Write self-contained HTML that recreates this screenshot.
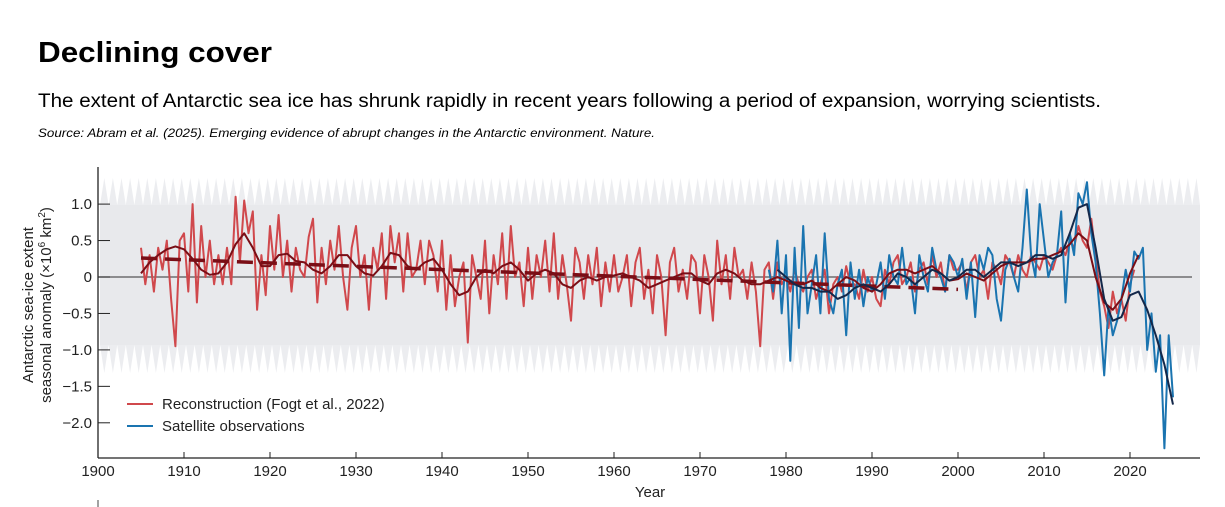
<!DOCTYPE html>
<html><head><meta charset="utf-8">
<style>
body{margin:0;background:#fff;width:1225px;height:507px;overflow:hidden;font-family:"Liberation Sans",sans-serif;}
svg{display:block}
</style></head>
<body>
<svg id="chart" width="1225" height="507" viewBox="0 0 1225 507">
<text x="38" y="62" font-size="29" font-weight="bold" fill="#000" textLength="234" lengthAdjust="spacingAndGlyphs">Declining cover</text>
<text x="38" y="107" font-size="19" fill="#000" textLength="1063" lengthAdjust="spacingAndGlyphs">The extent of Antarctic sea ice has shrunk rapidly in recent years following a period of expansion, worrying scientists.</text>
<text x="38" y="137" font-size="12" font-style="italic" fill="#000" textLength="617" lengthAdjust="spacingAndGlyphs">Source: Abram et al. (2025). Emerging evidence of abrupt changes in the Antarctic environment. Nature.</text>
<g id="band"></g>
<g id="axes"></g>
<g id="series"></g>
<g>
<line x1="127" y1="404" x2="153" y2="404" stroke="#d0484c" stroke-width="2"/>
<text x="162" y="409" font-size="15" fill="#222">Reconstruction (Fogt et al., 2022)</text>
<line x1="127" y1="426" x2="153" y2="426" stroke="#1a74b0" stroke-width="2"/>
<text x="162" y="431" font-size="15" fill="#222">Satellite observations</text>
</g>
<text transform="translate(33,305) rotate(-90)" text-anchor="middle" font-size="15" fill="#222">Antarctic sea-ice extent</text>
<text transform="translate(51,305) rotate(-90)" text-anchor="middle" font-size="15" fill="#222">seasonal anomaly (×10<tspan font-size="10" dy="-6">6</tspan><tspan dy="6"> km</tspan><tspan font-size="10" dy="-6">2</tspan><tspan dy="6">)</tspan></text>
<text x="650" y="497" text-anchor="middle" font-size="15" fill="#222">Year</text>
<line x1="98" y1="500" x2="98" y2="507" stroke="#444" stroke-width="1"/>
</svg>
<script>
const xTicks=[1900,1910,1920,1930,1940,1950,1960,1970,1980,1990,2000,2010,2020];
const yTicks=[1.0,0.5,0,-0.5,-1.0,-1.5,-2.0];
const yTickLabels=["1.0","0.5","0","\u22120.5","\u22121.0","\u22121.5","\u22122.0"];
const recStart=1905, recStep=0.5;
const recValues=[0.4,-0.1,0.3,-0.2,0.4,0.1,0.5,-0.3,-0.95,0.5,0.6,-0.2,1.0,-0.35,0.7,0.0,0.5,-0.1,0.3,-0.1,0.4,-0.1,1.1,0.2,1.05,0.6,0.9,-0.45,0.3,-0.25,
0.7,0.1,0.85,0.0,0.5,-0.2,0.4,0.1,0.0,0.55,0.8,-0.35,0.4,-0.1,0.5,0.1,0.7,0.0,-0.45,0.4,0.7,0.0,0.3,-0.45,0.4,0.1,0.6,-0.3,0.7,0.2,0.6,-0.2,0.6,0.0,0.1,0.5,-0.1,0.5,0.3,-0.2,
0.5,-0.45,0.3,-0.4,0.0,0.2,-0.9,0.3,0.0,-0.3,0.5,-0.5,0.3,-0.1,0.6,-0.3,0.7,0.0,0.2,-0.4,0.4,-0.3,0.3,0.0,0.5,-0.2,0.6,-0.3,0.3,-0.1,-0.6,0.4,0.2,-0.3,0.3,-0.1,0.4,-0.4,0.2,-0.2,
0.3,-0.2,0.0,0.3,-0.4,0.2,0.4,-0.3,0.1,-0.5,0.3,0.0,-0.8,0.2,0.4,-0.2,0.1,-0.3,0.3,0.2,-0.5,0.3,0.0,-0.6,0.5,-0.1,0.3,-0.3,0.4,0.0,0.1,-0.3,0.2,-0.2,-0.95,0.1,0.2,-0.3,0.2,-0.1,
0.0,-0.2,0.1,-0.1,-0.2,0.0,0.1,-0.3,-0.1,0.1,-0.5,-0.1,0.0,-0.2,0.15,-0.1,-0.1,-0.3,0.1,-0.2,0.0,-0.3,-0.4,0.1,-0.1,0.2,0.3,-0.1,0.0,0.2,-0.2,0.1,0.2,-0.1,0.3,0.0,0.2,-0.2,0.3,0.1,
0.1,0.2,-0.2,0.2,0.3,0.0,0.1,-0.3,0.2,0.1,-0.1,0.3,0.2,0.0,0.3,0.1,0.0,0.3,0.2,0.1,0.3,0.2,0.1,0.3,0.4,0.3,0.5,0.4,0.7,0.5,0.4,0.8,0.3,-0.2,-0.4,-0.7,-0.2,-0.5,-0.3,-0.6,-0.1,0.1];
const satStart=1978, satStep=0.5;
const satValues=[0.1,-0.2,0.5,-0.5,0.3,-1.15,0.4,-0.7,0.7,-0.5,-0.1,0.3,-0.5,0.6,-0.3,-0.5,-0.1,0.1,-0.8,0.2,-0.3,0.1,-0.4,0.0,-0.2,-0.1,0.2,-0.3,0.3,0.0,-0.1,0.4,-0.1,0.0,-0.5,0.3,0.0,-0.2,0.4,0.1,0.0,-0.2,0.3,0.2,
0.0,0.25,-0.3,0.2,-0.55,0.3,0.1,0.4,0.3,-0.3,-0.6,0.1,0.25,0.0,-0.2,0.4,1.2,0.3,0.0,1.0,0.5,0.0,0.2,0.3,0.9,-0.35,0.6,0.3,1.15,1.0,1.3,0.6,0.2,-0.5,-1.35,-0.4,-0.8,-0.6,-0.3,0.1,-0.2,0.35,0.25,0.4,-1.0,-0.5,-1.3,-0.8,-2.35,-0.8,-1.65];
const recSmoothStart=1905;
const recSmooth=[0.05,0.2,0.3,0.38,0.42,0.38,0.25,0.1,0.03,0.05,0.2,0.45,0.6,0.4,0.15,0.15,0.3,0.32,0.22,0.2,0.1,0.05,0.15,0.3,0.3,0.15,0.05,0.02,0.15,0.33,0.3,0.15,0.1,0.2,0.25,0.1,-0.1,-0.25,-0.2,0.0,0.1,0.05,0.15,0.2,0.1,-0.05,0.05,0.1,0.05,-0.1,-0.15,-0.05,0.0,-0.05,0.0,0.02,0.05,0.0,-0.05,-0.15,-0.1,-0.05,0.0,0.05,0.05,-0.05,-0.1,0.05,0.1,0.05,-0.05,-0.1,-0.1,-0.05,0.0,-0.05,-0.1,-0.1,-0.05,-0.15,-0.2,-0.1,0.0,-0.05,-0.15,-0.2,-0.1,0.05,0.1,0.1,0.05,0.1,0.15,0.05,-0.05,-0.03,0.05,0.0,-0.05,0.05,0.15,0.2,0.2,0.2,0.25,0.25,0.3,0.35,0.45,0.6,0.5,0.0,-0.35,-0.45,-0.3,0.05,0.3];
const satSmoothStart=1979;
const satSmooth=[0.1,0.0,-0.1,-0.15,-0.15,-0.2,-0.2,-0.3,-0.25,-0.15,-0.1,-0.15,-0.2,-0.1,0.05,0.0,-0.1,0.0,0.1,0.05,-0.05,0.0,0.1,0.1,0.0,0.1,0.2,0.2,0.15,0.2,0.3,0.3,0.25,0.3,0.6,0.95,1.0,0.4,-0.3,-0.6,-0.55,-0.25,-0.2,-0.45,-0.8,-1.2,-1.75];
const trendYears=[1905,2000];
const trendValues=[0.26,-0.17];

const NS="http://www.w3.org/2000/svg";
const X=y=>98+(y-1900)*8.6;
const Y=v=>277-v*72.9;
function mk(tag,attrs,parent){const e=document.createElementNS(NS,tag);for(const k in attrs)e.setAttribute(k,attrs[k]);parent.appendChild(e);return e;}
const bandG=document.getElementById('band'),axesG=document.getElementById('axes'),seriesG=document.getElementById('series');
let r=mk('rect',{x:100,y:205,width:1100,height:140,fill:'#e8e9ec'},bandG);


let topD='M100,205',botD='M100,345';
for(let x=100;x<1200;x+=8.6){topD+=` L${x+4.3},178 L${Math.min(x+8.6,1200)},205`;botD+=` L${x+4.3},373 L${Math.min(x+8.6,1200)},345`;}
let p1=mk('path',{d:topD+' Z',fill:'#ecedf0'},bandG);


let p2=mk('path',{d:botD+' Z',fill:'#ecedf0'},bandG);


let ya=mk('line',{x1:98,y1:167,x2:98,y2:458,stroke:'#222','stroke-width':1.3},axesG);


let xa=mk('line',{x1:98,y1:458,x2:1200,y2:458,stroke:'#222','stroke-width':1.3},axesG);


let zl=mk('line',{x1:98,y1:Y(0),x2:1192,y2:Y(0),stroke:'#555','stroke-width':1.3},axesG);


xTicks.forEach(t=>{
 let l=mk('line',{x1:X(t),y1:452,x2:X(t),y2:458,stroke:'#222'},axesG);
 
 
 let tx=mk('text',{x:X(t),y:476,'text-anchor':'middle','font-size':15,fill:'#222'},axesG);tx.textContent=t;
 
 
});
yTicks.forEach((t,i)=>{
 let l=mk('line',{x1:98,y1:Y(t),x2:110,y2:Y(t),stroke:'#222'},axesG);
 
 
 let tx=mk('text',{x:92,y:Y(t)+5,'text-anchor':'end','font-size':15,fill:'#222'},axesG);tx.textContent=yTickLabels[i];
 
 
});
function pts(start,step,vals){return vals.map((v,i)=>X(start+i*step).toFixed(1)+','+Y(v).toFixed(1)).join(' ');}
let rl=mk('polyline',{points:pts(recStart,recStep,recValues),fill:'none',stroke:'#d0484c','stroke-width':2,'stroke-linejoin':'round'},seriesG);


let sl=mk('polyline',{points:pts(satStart,satStep,satValues),fill:'none',stroke:'#1a74b0','stroke-width':2,'stroke-linejoin':'round'},seriesG);


let tl=mk('line',{x1:X(trendYears[0]),y1:Y(trendValues[0]),x2:X(trendYears[1]),y2:Y(trendValues[1]),stroke:'#7a0e16','stroke-width':3.5,'stroke-dasharray':'16,8'},seriesG);


let rs=mk('polyline',{points:pts(recSmoothStart,1,recSmooth),fill:'none',stroke:'#7a0e16','stroke-width':2,'stroke-linejoin':'round'},seriesG);


let ss=mk('polyline',{points:pts(satSmoothStart,1,satSmooth),fill:'none',stroke:'#14284a','stroke-width':2,'stroke-linejoin':'round'},seriesG);


</script>
</body></html>
